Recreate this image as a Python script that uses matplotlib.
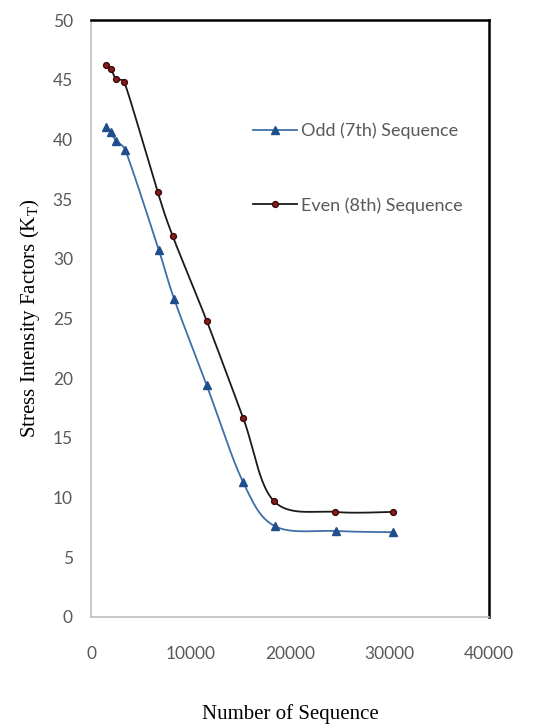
import numpy as np
import matplotlib
matplotlib.use("Agg")
import matplotlib.pyplot as plt

# valores
seq_odd = [1500, 2000, 2500, 3450, 6830, 8370, 11630, 15280, 18490, 24620, 30380]
k_odd = [41.0, 40.6, 39.9, 39.1, 30.7, 26.6, 19.4, 11.3, 7.6, 7.2, 7.1]

seq_even = [1500, 2000, 2500, 3350, 6700, 8210, 11630, 15280, 18390, 24520, 30320]
k_even = [46.2, 45.9, 45.1, 44.8, 35.6, 31.9, 24.8, 16.7, 9.7, 8.8, 8.8]

xticks = [0, 10000, 20000, 30000, 40000]
yticks = [0, 5, 10, 15, 20, 25, 30, 35, 40, 45, 50]


def suavizar(x, y, n=30):
    """linha suavizada tipo Excel (bezier), escala normalizada p/ evitar lacos"""
    sx, sy = 40000 / 398, 50 / 597
    p = np.column_stack([np.asarray(x, float) / sx, np.asarray(y, float) / sy])
    p = np.vstack([p[0], p, p[-1]])
    t = np.linspace(0, 1, n)[:, None]
    pts = []
    for i in range(1, len(p) - 2):
        p0, p1, p2, p3 = p[i - 1], p[i], p[i + 1], p[i + 2]
        corda = np.linalg.norm(p2 - p1)
        c1 = (p2 - p0) / 6
        c2 = (p3 - p1) / 6
        # limita o tamanho dos controles
        for c in (c1, c2):
            L = np.linalg.norm(c)
            if L > 0.45 * corda:
                c *= 0.45 * corda / L
        b1, b2 = p1 + c1, p2 - c2
        seg = ((1 - t) ** 3) * p1 + 3 * ((1 - t) ** 2) * t * b1 + 3 * (1 - t) * t ** 2 * b2 + t ** 3 * p2
        pts.append(seg)
    pts = np.vstack(pts)
    return pts[:, 0] * sx, pts[:, 1] * sy


fig = plt.figure(figsize=(5.56, 7.28), dpi=100)
ax = fig.add_axes([0.1637, 0.1525, 0.7158, 0.82])

xs, ys = suavizar(seq_odd, k_odd)
ax.plot(xs, ys, color='#3f6fa8', lw=1.3)
ax.plot(seq_odd, k_odd, ls='none', marker='^', ms=6, color='#1f4e8c')
ax.plot([], [], color='#3f6fa8', lw=1.3, marker='^', ms=6, mfc='#1f4e8c', mec='#1f4e8c',
        label='Odd (7th) Sequence')

xs, ys = suavizar(seq_even, k_even)
ax.plot(xs, ys, color='#1a1a1a', lw=1.3)
ax.plot(seq_even, k_even, ls='none', marker='o', ms=4.2, color='#8b1a1a', mec='#3a0a0a')
ax.plot([], [], color='#1a1a1a', lw=1.3, marker='o', ms=4.2, mfc='#8b1a1a', mec='#3a0a0a',
        label='Even (8th) Sequence')

ax.set_xlim(0, 40000)
ax.set_ylim(0, 50)
ax.set_xticks(xticks)
ax.set_yticks(yticks)
ax.tick_params(length=0, labelsize=12.5, labelcolor='#595959')
ax.tick_params(axis='x', pad=21)
ax.tick_params(axis='y', pad=13)
for lab in ax.get_xticklabels() + ax.get_yticklabels():
    lab.set_family('Lato')

for s in ['top', 'right']:
    ax.spines[s].set_color('black')
    ax.spines[s].set_linewidth(1.8)
for s in ['left', 'bottom']:
    ax.spines[s].set_color('#bfbfbf')
    ax.spines[s].set_linewidth(1.2)

ax.set_xlabel('Number of Sequence', family='Liberation Serif', fontsize=15, labelpad=30)
ax.set_ylabel('Stress Intensity Factors (K$_\\mathregular{T}$)', family='Liberation Serif',
              fontsize=15, labelpad=8)

leg = ax.legend(loc='upper left', bbox_to_anchor=(0.367, 0.855), frameon=False,
                labelspacing=3.2, handlelength=2.4, handletextpad=0.25,
                prop={'family': 'Lato', 'size': 13})
for t in leg.get_texts():
    t.set_color('#595959')

fig.savefig('out.png', dpi=100)
